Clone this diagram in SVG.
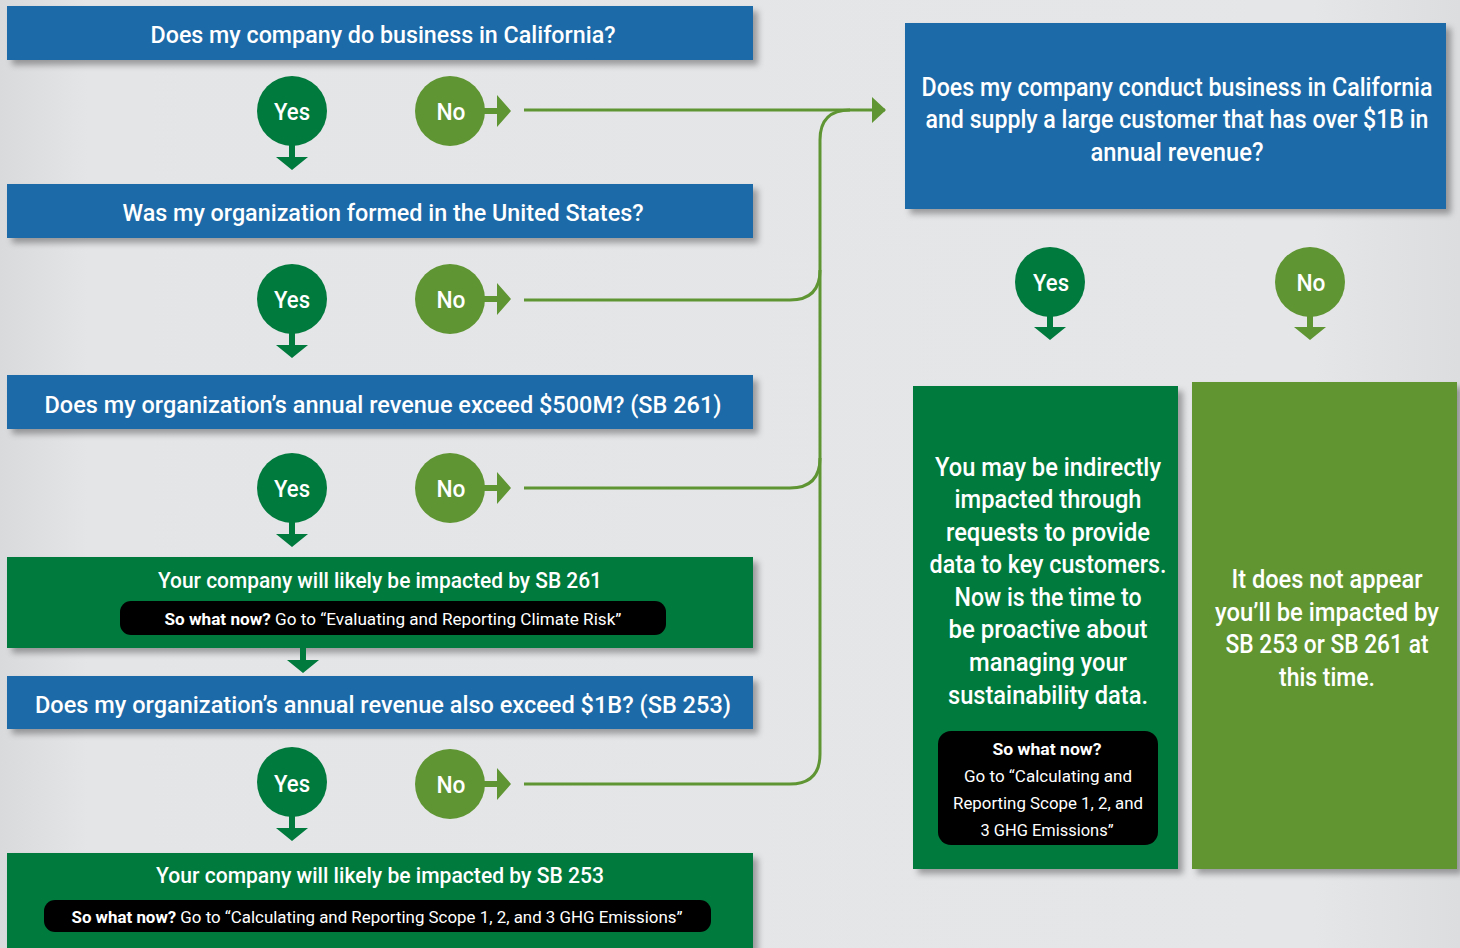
<svg xmlns="http://www.w3.org/2000/svg" width="1460" height="948" viewBox="0 0 1460 948">
<defs>
<linearGradient id="bg" x1="0" y1="0" x2="1" y2="0">
<stop offset="0" stop-color="#d9dadc"/>
<stop offset="0.06" stop-color="#e4e5e7"/>
<stop offset="0.9" stop-color="#e5e6e8"/>
<stop offset="1" stop-color="#dcdddf"/>
</linearGradient>
<filter id="sh" x="-5%" y="-10%" width="115%" height="140%">
<feDropShadow dx="5" dy="5" stdDeviation="3" flood-color="#000" flood-opacity="0.33"/>
</filter>
<marker id="ah" viewBox="0 0 14 26" refX="13" refY="13" markerWidth="14" markerHeight="26" markerUnits="userSpaceOnUse" orient="auto">
<path d="M0,0 L14,13 L0,26 Z" fill="#5f9532"/>
</marker>
<style>
.blue{fill:#1c6aa8;filter:url(#sh)}
.dg{fill:#007a3d;filter:url(#sh)}
.lg{fill:#609533;filter:url(#sh)}
.pill{fill:#000}
.t{font-family:Roboto,"Liberation Sans",sans-serif;font-weight:500;fill:#fff;text-anchor:middle}
.h{font-size:24px}
.b{font-size:25px}
.s{font-size:22px}
.p{font-size:17px;font-weight:400}
.bold{font-weight:700}
.yes{fill:#007a3d}
.no{fill:#5f9532}
.conn{fill:none;stroke:#5f9532;stroke-width:3}
</style>
</defs>
<rect x="0" y="0" width="1460" height="948" fill="url(#bg)"/>

<g id="connectors">
<path class="conn" d="M524,110 H885" marker-end="url(#ah)"/>
<path class="conn" d="M524,300 H790 Q820,300 820,270"/>
<path class="conn" d="M524,488 H790 Q820,488 820,458"/>
<path class="conn" d="M524,784 H790 Q820,784 820,754 V140 Q820,110 850,110"/>
</g>

<g id="q1">
<rect class="blue" x="7" y="6" width="746" height="54"/>
<text class="t h" x="383" y="43" textLength="465" lengthAdjust="spacingAndGlyphs">Does my company do business in California?</text>
</g>
<g id="yes1">
<circle class="yes" cx="292" cy="111" r="35"/>
<path class="yes" d="M289,144 h6 v13 h13 l-16,13 l-16,-13 h13 z"/>
<text class="t h" x="292" y="120" textLength="36" lengthAdjust="spacingAndGlyphs">Yes</text>
</g>
<g id="no1">
<circle class="no" cx="450" cy="111" r="35"/>
<path class="no" d="M483,108 h14 v-13 l14,16 l-14,16 v-13 h-14 z"/>
<text class="t h" x="451" y="120" textLength="29" lengthAdjust="spacingAndGlyphs">No</text>
</g>

<g id="q2">
<rect class="blue" x="7" y="184" width="746" height="54"/>
<text class="t h" x="383" y="221" textLength="521" lengthAdjust="spacingAndGlyphs">Was my organization formed in the United States?</text>
</g>
<g id="yes2">
<circle class="yes" cx="292" cy="299" r="35"/>
<path class="yes" d="M289,332 h6 v13 h13 l-16,13 l-16,-13 h13 z"/>
<text class="t h" x="292" y="308" textLength="36" lengthAdjust="spacingAndGlyphs">Yes</text>
</g>
<g id="no2">
<circle class="no" cx="450" cy="299" r="35"/>
<path class="no" d="M483,296 h14 v-13 l14,16 l-14,16 v-13 h-14 z"/>
<text class="t h" x="451" y="308" textLength="29" lengthAdjust="spacingAndGlyphs">No</text>
</g>

<g id="q3">
<rect class="blue" x="7" y="375" width="746" height="54"/>
<text class="t h" x="383" y="413" textLength="677" lengthAdjust="spacingAndGlyphs">Does my organization’s annual revenue exceed $500M? (SB 261)</text>
</g>
<g id="yes3">
<circle class="yes" cx="292" cy="488" r="35"/>
<path class="yes" d="M289,521 h6 v13 h13 l-16,13 l-16,-13 h13 z"/>
<text class="t h" x="292" y="497" textLength="36" lengthAdjust="spacingAndGlyphs">Yes</text>
</g>
<g id="no3">
<circle class="no" cx="450" cy="488" r="35"/>
<path class="no" d="M483,485 h14 v-13 l14,16 l-14,16 v-13 h-14 z"/>
<text class="t h" x="451" y="497" textLength="29" lengthAdjust="spacingAndGlyphs">No</text>
</g>

<g id="r261">
<rect class="dg" x="7" y="557" width="746" height="91"/>
<text class="t s" x="380" y="588" textLength="444" lengthAdjust="spacingAndGlyphs">Your company will likely be impacted by SB 261</text>
<rect class="pill" x="120" y="601" width="546" height="34" rx="11"/>
<text class="t p" x="393" y="625" textLength="457" lengthAdjust="spacingAndGlyphs"><tspan class="bold">So what now?</tspan> Go to “Evaluating and Reporting Climate Risk”</text>
</g>
<g id="arrow261">
<path class="yes" d="M300,648 h6 v12 h13 l-16,13 l-16,-13 h13 z"/>
</g>

<g id="q4">
<rect class="blue" x="7" y="676" width="746" height="53"/>
<text class="t h" x="383" y="713" textLength="696" lengthAdjust="spacingAndGlyphs">Does my organization’s annual revenue also exceed $1B?  (SB 253)</text>
</g>
<g id="yes4">
<circle class="yes" cx="292" cy="782" r="35"/>
<path class="yes" d="M289,815 h6 v13 h13 l-16,13 l-16,-13 h13 z"/>
<text class="t h" x="292" y="792" textLength="36" lengthAdjust="spacingAndGlyphs">Yes</text>
</g>
<g id="no4">
<circle class="no" cx="450" cy="784" r="35"/>
<path class="no" d="M483,781 h14 v-13 l14,16 l-14,16 v-13 h-14 z"/>
<text class="t h" x="451" y="793" textLength="29" lengthAdjust="spacingAndGlyphs">No</text>
</g>

<g id="r253">
<rect class="dg" x="7" y="853" width="746" height="110"/>
<text class="t s" x="380" y="883" textLength="448" lengthAdjust="spacingAndGlyphs">Your company will likely be impacted by SB 253</text>
<rect class="pill" x="44" y="900" width="667" height="32" rx="11"/>
<text class="t p" x="377" y="923" textLength="611" lengthAdjust="spacingAndGlyphs"><tspan class="bold">So what now?</tspan> Go to “Calculating and Reporting Scope 1, 2, and 3 GHG Emissions”</text>
</g>

<g id="q5">
<rect class="blue" x="905" y="23" width="541" height="186"/>
<text class="t b" x="1177" y="96" textLength="511" lengthAdjust="spacingAndGlyphs">Does my company conduct business in California</text>
<text class="t b" x="1177" y="128" textLength="503" lengthAdjust="spacingAndGlyphs">and supply a large customer that has over $1B in</text>
<text class="t b" x="1177" y="161" textLength="173" lengthAdjust="spacingAndGlyphs">annual revenue?</text>
</g>
<g id="yes5">
<circle class="yes" cx="1050" cy="282" r="35"/>
<path class="yes" d="M1047,315 h6 v12 h13 l-16,13 l-16,-13 h13 z"/>
<text class="t h" x="1051" y="291" textLength="36" lengthAdjust="spacingAndGlyphs">Yes</text>
</g>
<g id="no5">
<circle class="no" cx="1310" cy="282" r="35"/>
<path class="no" d="M1307,315 h6 v12 h13 l-16,13 l-16,-13 h13 z"/>
<text class="t h" x="1311" y="291" textLength="29" lengthAdjust="spacingAndGlyphs">No</text>
</g>

<g id="indirect">
<rect class="dg" x="913" y="386" width="265" height="483"/>
<text class="t b" x="1048" y="476" textLength="226" lengthAdjust="spacingAndGlyphs">You may be indirectly</text>
<text class="t b" x="1048" y="508" textLength="187" lengthAdjust="spacingAndGlyphs">impacted through</text>
<text class="t b" x="1048" y="541" textLength="204" lengthAdjust="spacingAndGlyphs">requests to provide</text>
<text class="t b" x="1048" y="573" textLength="237" lengthAdjust="spacingAndGlyphs">data to key customers.</text>
<text class="t b" x="1048" y="606" textLength="187" lengthAdjust="spacingAndGlyphs">Now is the time to</text>
<text class="t b" x="1048" y="638" textLength="199" lengthAdjust="spacingAndGlyphs">be proactive about</text>
<text class="t b" x="1048" y="671" textLength="158" lengthAdjust="spacingAndGlyphs">managing your</text>
<text class="t b" x="1048" y="704" textLength="200" lengthAdjust="spacingAndGlyphs">sustainability data.</text>
<rect class="pill" x="938" y="731" width="220" height="114" rx="13"/>
<text class="t p bold" x="1047" y="755" textLength="109" lengthAdjust="spacingAndGlyphs">So what now?</text>
<text class="t p" x="1048" y="782" textLength="168" lengthAdjust="spacingAndGlyphs">Go to “Calculating and</text>
<text class="t p" x="1048" y="809" textLength="190" lengthAdjust="spacingAndGlyphs">Reporting Scope 1, 2, and</text>
<text class="t p" x="1047" y="836" textLength="133" lengthAdjust="spacingAndGlyphs">3 GHG Emissions”</text>
</g>

<g id="notimpacted">
<rect class="lg" x="1192" y="382" width="265" height="487"/>
<text class="t b" x="1327" y="588" textLength="191" lengthAdjust="spacingAndGlyphs">It does not appear</text>
<text class="t b" x="1327" y="621" textLength="224" lengthAdjust="spacingAndGlyphs">you’ll be impacted by</text>
<text class="t b" x="1327" y="653" textLength="203" lengthAdjust="spacingAndGlyphs">SB 253 or SB 261 at</text>
<text class="t b" x="1327" y="686" textLength="96" lengthAdjust="spacingAndGlyphs">this time.</text>
</g>
</svg>
